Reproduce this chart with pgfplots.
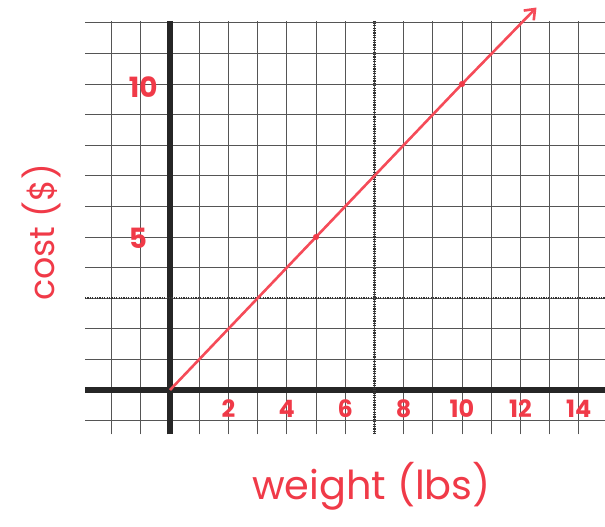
\documentclass[border=0pt]{standalone}
\usepackage{pgfplots}
\pgfplotsset{compat=1.18}
\usepackage{fontspec}
\setmainfont{Poppins}
\usetikzlibrary{arrows.meta}

\definecolor{ink}{RGB}{240,58,72}
\definecolor{penline}{RGB}{245,75,88}
\definecolor{paper}{RGB}{85,85,85}

\begin{document}
\begin{tikzpicture}[x=1bp,y=1bp]
% page frame, y measured downward from the top edge
\useasboundingbox (0,0) rectangle (605,-527);
\begin{axis}[
    anchor=origin,
    at={(170bp,-390bp)},
    x=29.2bp, y=30.6bp,
    xmin=-2.91, xmax=14.9,
    ymin=-1.45, ymax=12.05,
    axis lines*=middle,
    axis line style={line width=6.5bp, black!85},
    xtick={-2,...,14}, ytick={-1,...,12},
    xticklabels={}, yticklabels={},
    major tick length=0pt,
    grid=major,
    grid style={line width=0.8bp, paper},
    clip=false,
]
% heavier dotted rulings of the graph paper
\draw[dash pattern=on 1.2bp off 1.2bp, line width=2.2bp, black!80] (axis cs:7,-1.45) -- (axis cs:7,12.05);
\draw[dash pattern=on 1.2bp off 1.2bp, line width=2.2bp, black!80] (axis cs:-2.91,3) -- (axis cs:14.9,3);

% cost grows one dollar per pound
\addplot[penline, line width=2.6bp, -{Straight Barb[length=9bp,width=14bp,line width=2.6bp]}]
    coordinates {(0,0) (5,5) (10,10) (12.55,12.5)};
\addplot[only marks, mark=*, mark size=2.8bp, ink]
    coordinates {(5,5) (10,10)};

% hand-lettered tick values
\tikzset{ticknum/.style={ink, font=\fontsize{24}{24}\selectfont\bfseries}}
\node[ticknum] at (axis cs:2,-0.62) {2};
\node[ticknum] at (axis cs:4,-0.62) {4};
\node[ticknum] at (axis cs:6,-0.62) {6};
\node[ticknum] at (axis cs:8,-0.62) {8};
\node[ticknum] at (axis cs:10,-0.62) {10};
\node[ticknum] at (axis cs:12,-0.62) {12};
\node[ticknum] at (axis cs:14,-0.62) {14};
\node[ink, font=\fontsize{28}{28}\selectfont\bfseries] at (axis cs:-1.1,4.95) {5};
\node[ink, font=\fontsize{28}{28}\selectfont\bfseries] at (axis cs:-0.92,9.9) {10};

% axis titles
\node[ink, font=\fontsize{40}{40}\selectfont] at (axis cs:6.9,-3.15) {weight (lbs)};
\node[ink, rotate=90, font=\fontsize{35}{35}\selectfont] at (axis cs:-4.4,5.15) {cost (\$)};
\end{axis}
\end{tikzpicture}
\end{document}
